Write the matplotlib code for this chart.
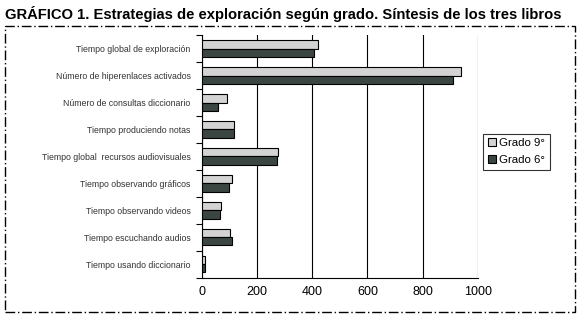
import numpy as np
import matplotlib.pyplot as plt
from matplotlib.patches import Rectangle

categorias = [
    'Tiempo global de exploración',
    'Número de hiperenlaces activados',
    'Número de consultas diccionario',
    'Tiempo produciendo notas',
    'Tiempo global  recursos audiovisuales',
    'Tiempo observando gráficos',
    'Tiempo observando videos',
    'Tiempo escuchando audios',
    'Tiempo usando diccionario',
]
grado9 = [420, 940, 92, 116, 276, 109, 68, 103, 11]
grado6 = [407, 910, 58, 116, 273, 100, 67, 110, 10]
xticks = [0, 200, 400, 600, 800, 1000]

plt.rcParams['font.family'] = ['Liberation Sans', 'DejaVu Sans']

fig = plt.figure(figsize=(5.8, 3.19), dpi=100)
ax = fig.add_axes([0.348, 0.129, 0.476, 0.761])

y = np.arange(len(categorias))
h = 0.3
ax.barh(y - h / 2, grado9, height=h, color='#d3d3d3', edgecolor='black', linewidth=0.8, label='Grado 9°', zorder=3)
ax.barh(y + h / 2, grado6, height=h, color='#3b4642', edgecolor='black', linewidth=0.8, label='Grado 6°', zorder=3)

ax.set_ylim(len(categorias) - 0.5, -0.5)
ax.set_xlim(0, 1000)
ax.set_yticks(y)
ax.set_yticklabels(categorias, fontsize=6.3, color='#333333')
ax.set_yticks(np.arange(len(categorias) + 1) - 0.5, minor=True)
ax.tick_params(axis='y', which='major', length=0, pad=8)
ax.tick_params(axis='y', which='minor', length=4, width=0.8)
ax.set_xticks(xticks)
ax.set_xticklabels([str(v) for v in xticks], fontsize=9)
ax.tick_params(axis='x', length=0, pad=6)
ax.xaxis.grid(True, color='black', linewidth=0.8, zorder=0)
for s in ['top', 'right']:
    ax.spines[s].set_visible(False)
ax.spines['left'].set_linewidth(0.8)
ax.spines['bottom'].set_linewidth(0.8)

leg = ax.legend(loc='center left', bbox_to_anchor=(1.02, 0.52), fontsize=8.2,
                frameon=True, fancybox=False, edgecolor='black',
                handlelength=0.7, handleheight=0.7, handletextpad=0.3,
                borderpad=0.4, labelspacing=0.6, borderaxespad=0)
leg.get_frame().set_linewidth(0.8)

fig.text(0.009, 0.955, 'GRÁFICO 1. Estrategias de exploración según grado. Síntesis de los tres libros',
         fontsize=10.6, fontweight='bold', va='center', ha='left')

frame = Rectangle((0.009, 0.022), 0.982, 0.895, transform=fig.transFigure,
                  fill=False, edgecolor='black', linewidth=1.0, linestyle=(0, (7, 2, 1, 2)))
fig.add_artist(frame)

fig.savefig('out.png', dpi=100)
